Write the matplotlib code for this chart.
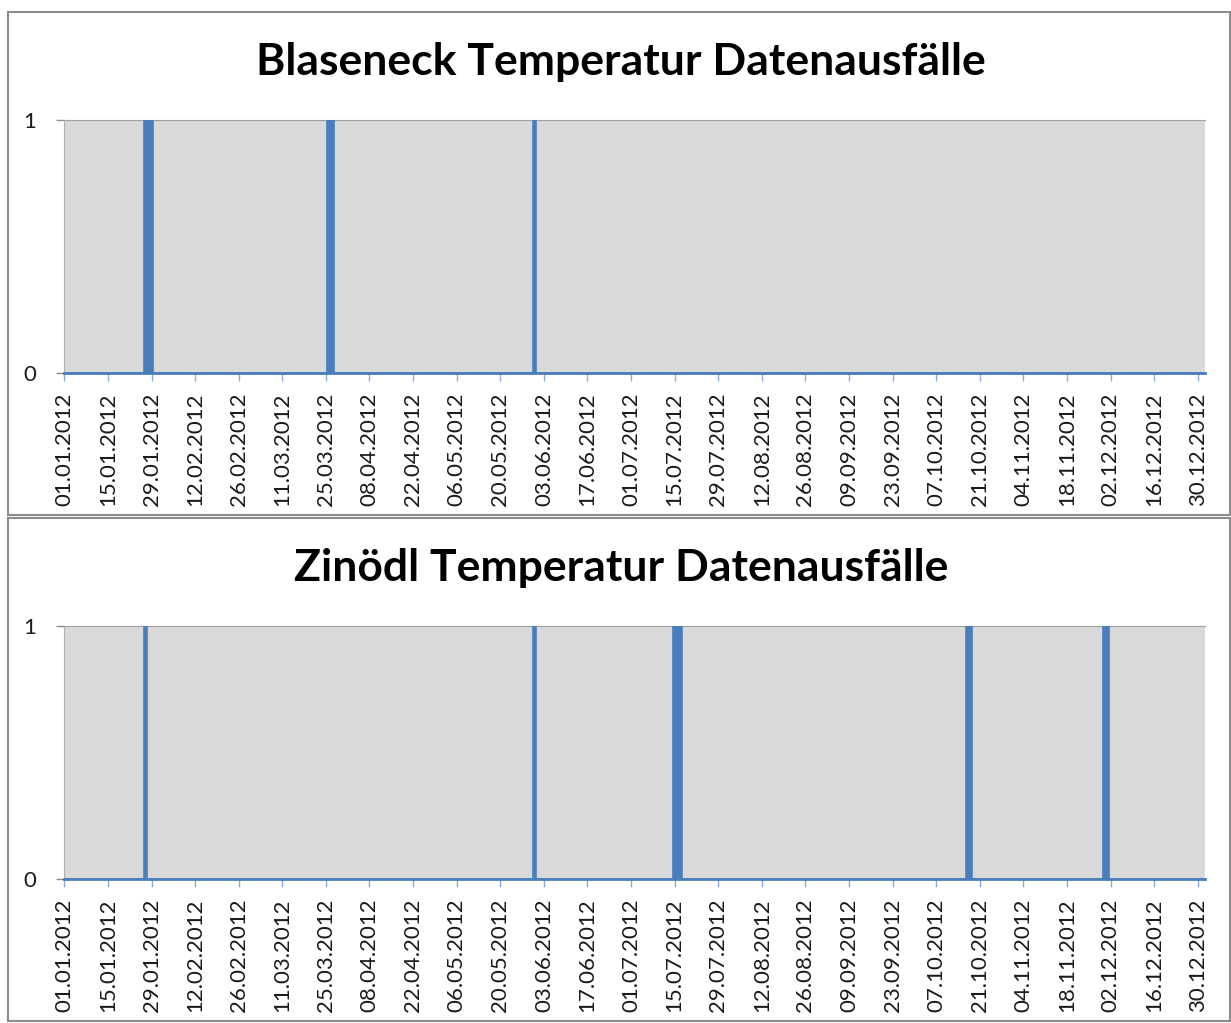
"""Datenausfälle der Temperaturmessung 2012 an zwei Stationen (Blaseneck, Zinödl)."""

import matplotlib

matplotlib.use("Agg")
import matplotlib.pyplot as plt
import matplotlib.dates as mdates
import pandas as pd
from matplotlib.patches import Rectangle

plt.rcParams["font.family"] = ["Lato", "DejaVu Sans"]

# Tage mit Datenausfall (Wert 1), alle übrigen Tage haben den Wert 0.
YEAR_START = "2012-01-01"
YEAR_END = "2012-12-31"
BLASENECK_AUSFALL = ["2012-01-27", "2012-01-28", "2012-01-29",
                     "2012-03-26", "2012-03-27",
                     "2012-05-31"]
ZINOEDL_AUSFALL = ["2012-01-27",
                   "2012-05-31",
                   "2012-07-15", "2012-07-16", "2012-07-17",
                   "2012-10-17", "2012-10-18",
                   "2012-11-30", "2012-12-01"]
TITLES = ["Blaseneck Temperatur Datenausfälle", "Zinödl Temperatur Datenausfälle"]
TICK_STEP_DAYS = 14

W, H = 1231, 1023
BAR_COLOR = "#4a7ebb"
PLOT_BG = "#d9d9d9"


def daily_series(outages):
    days = pd.date_range(YEAR_START, YEAR_END, freq="D")
    values = days.isin(pd.to_datetime(outages)).astype(int)
    return days, values


def draw_panel(fig, top_px, title, outages):
    # frame around the whole chart, like an Excel chart object
    fig.add_artist(Rectangle((8 / W, 1 - (top_px + 503) / H), (W - 9) / W, 503 / H,
                             transform=fig.transFigure, fill=False,
                             edgecolor="#8c8c8c", lw=1.5))
    fig.text(621 / W, 1 - (top_px + 50) / H, title, ha="center", va="center",
             fontsize=32, fontweight="bold", color="#000000")

    ax = fig.add_axes([64 / W, 1 - (top_px + 361) / H, (1205 - 64) / W, 253 / H])
    ax.set_facecolor(PLOT_BG)

    days, values = daily_series(outages)
    ax.bar(days, values, width=1.0, color=BAR_COLOR, edgecolor=BAR_COLOR,
           linewidth=1.2, align="center", zorder=3)

    start = pd.Timestamp(YEAR_START)
    ax.set_xlim(mdates.date2num(start) - 0.1, mdates.date2num(start) + 366.3)
    ax.set_ylim(0, 1)

    ticks = pd.date_range(YEAR_START, YEAR_END, freq=f"{TICK_STEP_DAYS}D")
    ax.set_xticks(ticks)
    ax.set_xticklabels([d.strftime("%d.%m.%Y") for d in ticks], rotation=90,
                       fontsize=16, color="#1a1a1a")
    ax.set_yticks([0, 1])
    ax.set_yticklabels(["0", "1"], fontsize=16, color="#1a1a1a")
    ax.tick_params(axis="x", length=6, width=1, color="#8eaadb", pad=8)
    ax.tick_params(axis="y", length=6, width=1, color="#8c8c8c", pad=14)

    ax.spines["bottom"].set_color(BAR_COLOR)
    ax.spines["bottom"].set_linewidth(2)
    ax.spines["bottom"].set_zorder(4)
    ax.spines["top"].set_color("#a0a0a0")
    ax.spines["left"].set_color("#b0b0b0")
    ax.spines["right"].set_visible(False)
    return ax


fig = plt.figure(figsize=(W / 100, H / 100), dpi=100)
draw_panel(fig, 12, TITLES[0], BLASENECK_AUSFALL)
draw_panel(fig, 518, TITLES[1], ZINOEDL_AUSFALL)

fig.savefig("out.png", dpi=100)
